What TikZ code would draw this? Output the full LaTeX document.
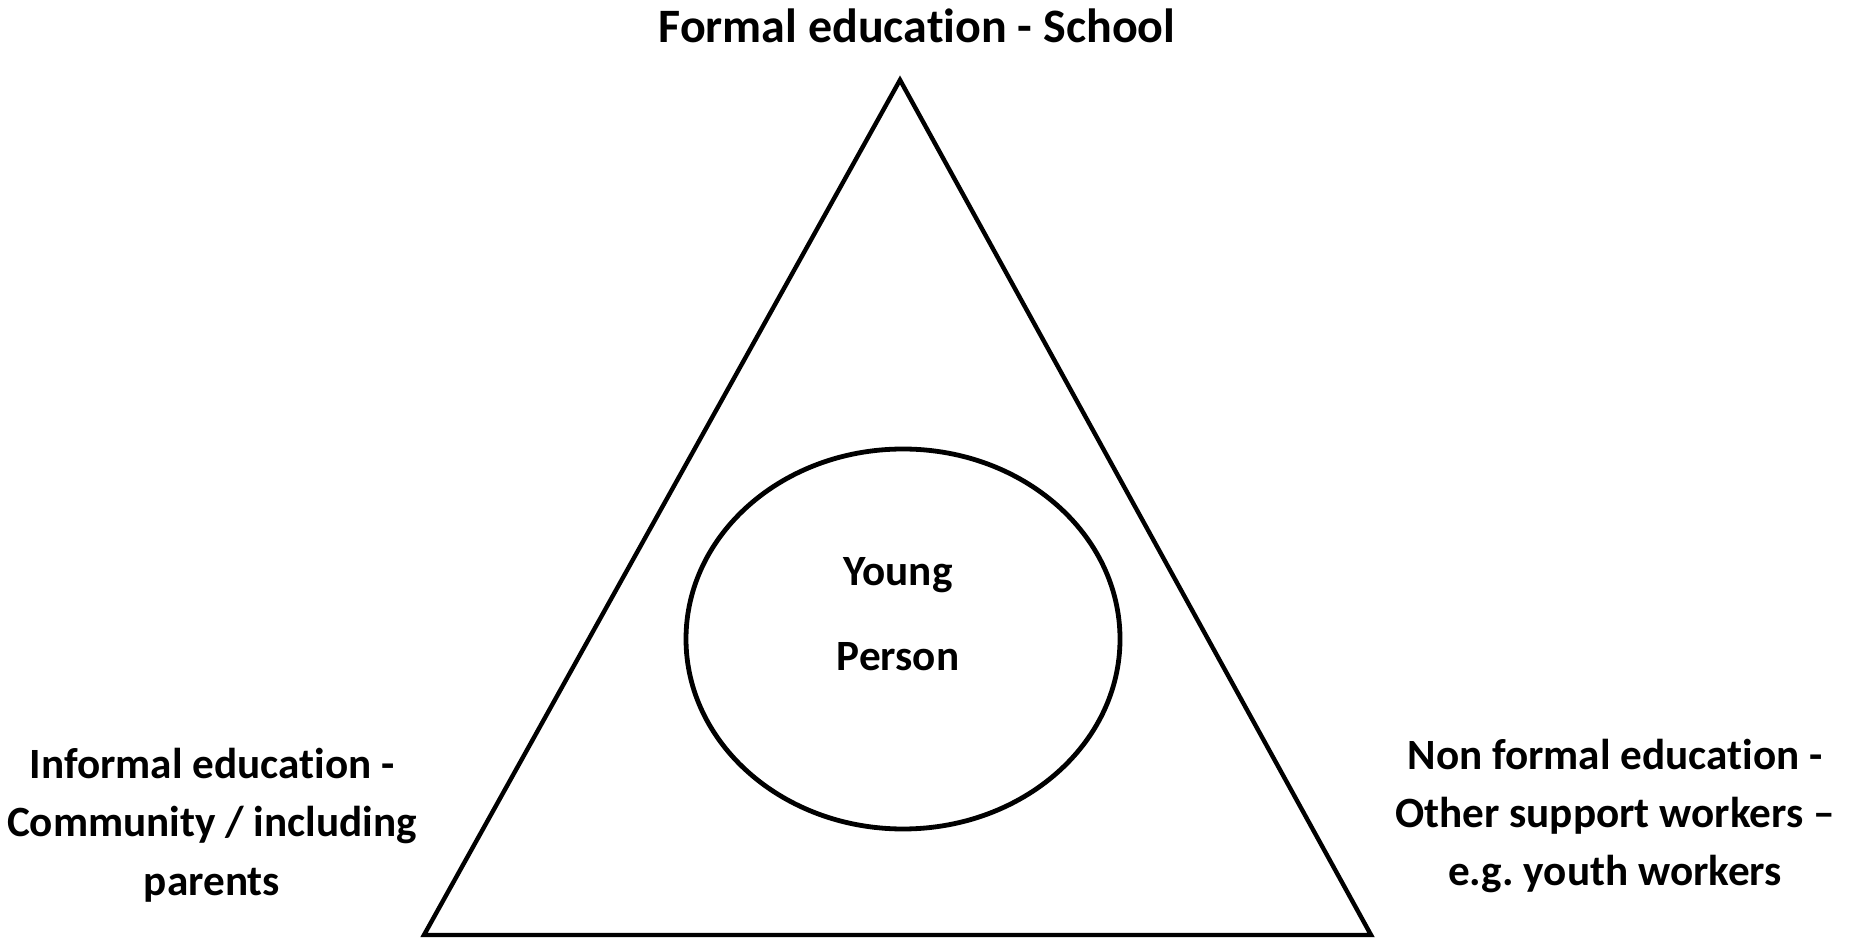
\documentclass[tikz,border=0pt]{standalone}
\usepackage{fontspec}
\setmainfont{Carlito}[Ligatures={NoCommon}]
\usetikzlibrary{shapes.geometric,positioning}
\tikzset{label text/.style={font=\fontsize{10.8}{14.6}\selectfont\bfseries, align=center, inner sep=0pt}}

\begin{document}
\begin{tikzpicture}[x=0.25pt,y=-0.25pt]
                   \useasboundingbox (0,0) rectangle (1849,938);
                   \coordinate (top)   at (900,80);
                   \coordinate (left)  at (424,935);
                   \coordinate (right) at (1371,935);
                   \draw[line width=1.1pt, line join=miter] (top) -- (left) -- (right) -- cycle;
                   \node[ellipse, draw, line width=1.2pt, minimum width=108.5pt, minimum height=95pt] (yp) at (903,639) {};
                   \node[label text] (yp_text) at (898,614) {Young\\[6.5pt]Person};
                   \node[label text, font=\fontsize{12}{14.6}\selectfont\bfseries] (formal) at (917,26) {Formal education - School};
                   \node[label text] (informal) at (212,825) {Informal education -\\Community / including\\parents};
                   \node[label text] (nonformal) at (1615,816) {Non formal education -\\Other support workers --\\e.g.\ youth workers};
                \end{tikzpicture}
\end{document}
